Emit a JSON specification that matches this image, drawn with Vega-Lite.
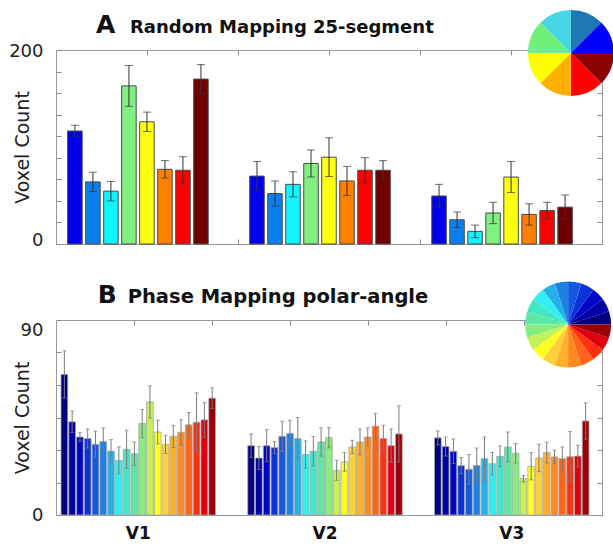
{
  "$schema": "https://vega.github.io/schema/vega-lite/v6.json",
  "padding": {"left": 8, "top": 9, "right": 0, "bottom": 0},
  "spacing": 30,
  "config": {
    "font": "DejaVu Sans",
    "view": {"stroke": "#9a9a9a", "strokeWidth": 1},
    "axis": {"labelFont": "DejaVu Sans", "titleFont": "DejaVu Sans", "labelColor": "#222222", "titleColor": "#222222", "tickColor": "#8a8a8a", "titleFontWeight": "normal", "grid": false}
  },
  "datasets": {
    "a": [
      {"g": "V1", "c": 1, "v": 116.5, "lo": 110.5, "hi": 122.5},
      {"g": "V1", "c": 2, "v": 64, "lo": 54, "hi": 74},
      {"g": "V1", "c": 3, "v": 54.5, "lo": 44.5, "hi": 64.5},
      {"g": "V1", "c": 4, "v": 163, "lo": 142, "hi": 184},
      {"g": "V1", "c": 5, "v": 126, "lo": 116, "hi": 136},
      {"g": "V1", "c": 6, "v": 77, "lo": 68, "hi": 86},
      {"g": "V1", "c": 7, "v": 76, "lo": 62, "hi": 90},
      {"g": "V1", "c": 8, "v": 170, "lo": 155, "hi": 185},
      {"g": "V2", "c": 1, "v": 70, "lo": 55, "hi": 85},
      {"g": "V2", "c": 2, "v": 52, "lo": 39, "hi": 65},
      {"g": "V2", "c": 3, "v": 61.5, "lo": 48.5, "hi": 74.5},
      {"g": "V2", "c": 4, "v": 83, "lo": 69, "hi": 97},
      {"g": "V2", "c": 5, "v": 89.5, "lo": 69.5, "hi": 109.5},
      {"g": "V2", "c": 6, "v": 65, "lo": 50, "hi": 80},
      {"g": "V2", "c": 7, "v": 76, "lo": 63, "hi": 89},
      {"g": "V2", "c": 8, "v": 76, "lo": 66, "hi": 86},
      {"g": "V3", "c": 1, "v": 49.5, "lo": 37.5, "hi": 61.5},
      {"g": "V3", "c": 2, "v": 25, "lo": 17, "hi": 33},
      {"g": "V3", "c": 3, "v": 13, "lo": 6.5, "hi": 19.5},
      {"g": "V3", "c": 4, "v": 32, "lo": 21, "hi": 43},
      {"g": "V3", "c": 5, "v": 69, "lo": 53, "hi": 85},
      {"g": "V3", "c": 6, "v": 30.5, "lo": 19.5, "hi": 41.5},
      {"g": "V3", "c": 7, "v": 34.5, "lo": 26, "hi": 43},
      {"g": "V3", "c": 8, "v": 38, "lo": 25.5, "hi": 50.5}
    ],
    "b": [
      {"g": "V1", "c": 1, "v": 64.9, "lo": 54, "hi": 75.8},
      {"g": "V1", "c": 2, "v": 43, "lo": 38, "hi": 48},
      {"g": "V1", "c": 3, "v": 36, "lo": 34, "hi": 38},
      {"g": "V1", "c": 4, "v": 35.3, "lo": 30.9, "hi": 39.7},
      {"g": "V1", "c": 5, "v": 32.6, "lo": 26.5, "hi": 38.7},
      {"g": "V1", "c": 6, "v": 33.9, "lo": 27.6, "hi": 40.2},
      {"g": "V1", "c": 7, "v": 29.5, "lo": 24.2, "hi": 34.8},
      {"g": "V1", "c": 8, "v": 25.2, "lo": 19, "hi": 31.4},
      {"g": "V1", "c": 9, "v": 30.3, "lo": 21.5, "hi": 39.1},
      {"g": "V1", "c": 10, "v": 28.3, "lo": 22.9, "hi": 33.7},
      {"g": "V1", "c": 11, "v": 42.2, "lo": 35.7, "hi": 48.7},
      {"g": "V1", "c": 12, "v": 52.2, "lo": 44.8, "hi": 59.6},
      {"g": "V1", "c": 13, "v": 38.3, "lo": 32.8, "hi": 43.8},
      {"g": "V1", "c": 14, "v": 32.6, "lo": 28.4, "hi": 36.8},
      {"g": "V1", "c": 15, "v": 36.3, "lo": 31.2, "hi": 41.4},
      {"g": "V1", "c": 16, "v": 38.2, "lo": 32.4, "hi": 44},
      {"g": "V1", "c": 17, "v": 41.6, "lo": 35.9, "hi": 47.3},
      {"g": "V1", "c": 18, "v": 42.8, "lo": 29.2, "hi": 56.4},
      {"g": "V1", "c": 19, "v": 43.9, "lo": 35.9, "hi": 51.9},
      {"g": "V1", "c": 20, "v": 53.9, "lo": 49.1, "hi": 58.7},
      {"g": "V2", "c": 1, "v": 32, "lo": 26.6, "hi": 37.4},
      {"g": "V2", "c": 2, "v": 26.3, "lo": 21, "hi": 31.6},
      {"g": "V2", "c": 3, "v": 32, "lo": 24.6, "hi": 39.4},
      {"g": "V2", "c": 4, "v": 31.1, "lo": 28.3, "hi": 33.9},
      {"g": "V2", "c": 5, "v": 36.3, "lo": 29.3, "hi": 43.3},
      {"g": "V2", "c": 6, "v": 37.7, "lo": 31.7, "hi": 43.7},
      {"g": "V2", "c": 7, "v": 35.3, "lo": 25.6, "hi": 45},
      {"g": "V2", "c": 8, "v": 27.9, "lo": 21.6, "hi": 34.2},
      {"g": "V2", "c": 9, "v": 29.4, "lo": 22.6, "hi": 36.2},
      {"g": "V2", "c": 10, "v": 33.7, "lo": 27.2, "hi": 40.2},
      {"g": "V2", "c": 11, "v": 35.7, "lo": 31, "hi": 40.4},
      {"g": "V2", "c": 12, "v": 20.6, "lo": 16, "hi": 25.2},
      {"g": "V2", "c": 13, "v": 24.5, "lo": 20.2, "hi": 28.8},
      {"g": "V2", "c": 14, "v": 31.4, "lo": 28.3, "hi": 34.5},
      {"g": "V2", "c": 15, "v": 33.7, "lo": 27.7, "hi": 39.7},
      {"g": "V2", "c": 16, "v": 36, "lo": 31.8, "hi": 40.2},
      {"g": "V2", "c": 17, "v": 41, "lo": 35.1, "hi": 46.9},
      {"g": "V2", "c": 18, "v": 35.3, "lo": 29.2, "hi": 41.4},
      {"g": "V2", "c": 19, "v": 32, "lo": 24.3, "hi": 39.7},
      {"g": "V2", "c": 20, "v": 37.4, "lo": 24.4, "hi": 50.4},
      {"g": "V3", "c": 1, "v": 35.6, "lo": 32.4, "hi": 38.8},
      {"g": "V3", "c": 2, "v": 31.6, "lo": 27.2, "hi": 36},
      {"g": "V3", "c": 3, "v": 29.4, "lo": 23.7, "hi": 35.1},
      {"g": "V3", "c": 4, "v": 22.8, "lo": 19.1, "hi": 26.5},
      {"g": "V3", "c": 5, "v": 21.1, "lo": 14.3, "hi": 27.9},
      {"g": "V3", "c": 6, "v": 22.9, "lo": 14.9, "hi": 30.9},
      {"g": "V3", "c": 7, "v": 26, "lo": 16, "hi": 36},
      {"g": "V3", "c": 8, "v": 23.7, "lo": 18.5, "hi": 28.9},
      {"g": "V3", "c": 9, "v": 27.1, "lo": 22.3, "hi": 31.9},
      {"g": "V3", "c": 10, "v": 31.4, "lo": 24.5, "hi": 38.3},
      {"g": "V3", "c": 11, "v": 28.5, "lo": 24, "hi": 33},
      {"g": "V3", "c": 12, "v": 16.8, "lo": 15.3, "hi": 18.3},
      {"g": "V3", "c": 13, "v": 22.5, "lo": 16.2, "hi": 28.8},
      {"g": "V3", "c": 14, "v": 26.3, "lo": 20, "hi": 32.6},
      {"g": "V3", "c": 15, "v": 28.8, "lo": 24, "hi": 33.6},
      {"g": "V3", "c": 16, "v": 26.8, "lo": 23.7, "hi": 29.9},
      {"g": "V3", "c": 17, "v": 26, "lo": 20.6, "hi": 31.4},
      {"g": "V3", "c": 18, "v": 26.9, "lo": 15.3, "hi": 38.5},
      {"g": "V3", "c": 19, "v": 27.2, "lo": 22.2, "hi": 32.2},
      {"g": "V3", "c": 20, "v": 43.4, "lo": 35, "hi": 51.8}
    ],
    "pieA": [
      {"k": 1, "n": 1}, {"k": 2, "n": 1}, {"k": 3, "n": 1}, {"k": 4, "n": 1},
      {"k": 5, "n": 1}, {"k": 6, "n": 1}, {"k": 7, "n": 1}, {"k": 8, "n": 1}
    ],
    "pieB": [
      {"c": 1, "n": 1}, {"c": 2, "n": 1}, {"c": 3, "n": 1}, {"c": 4, "n": 1}, {"c": 5, "n": 1},
      {"c": 6, "n": 1}, {"c": 7, "n": 1}, {"c": 8, "n": 1}, {"c": 9, "n": 1}, {"c": 10, "n": 1},
      {"c": 11, "n": 1}, {"c": 12, "n": 1}, {"c": 13, "n": 1}, {"c": 14, "n": 1}, {"c": 15, "n": 1},
      {"c": 16, "n": 1}, {"c": 17, "n": 1}, {"c": 18, "n": 1}, {"c": 19, "n": 1}, {"c": 20, "n": 1}
    ],
    "one": [{"o": 1}]
  },
  "vconcat": [
    {
      "width": 546,
      "height": 194,
      "resolve": {
        "scale": {"x": "independent", "y": "independent", "color": "independent", "xOffset": "independent", "theta": "independent"},
        "axis": {"x": "independent", "y": "independent"}
      },
      "layer": [
        {
          "data": {"name": "a"},
          "mark": {"type": "bar", "stroke": "#4a4a4a", "strokeWidth": 1},
          "encoding": {
            "x": {"field": "g", "type": "nominal", "scale": {"domain": ["V1", "V2", "V3"], "range": [0, 528], "paddingInner": 0.228, "paddingOuter": 0.064}, "axis": null},
            "xOffset": {"field": "c", "type": "ordinal", "scale": {"domain": [1, 2, 3, 4, 5, 6, 7, 8], "paddingInner": 0.194, "paddingOuter": 0}},
            "y": {"field": "v", "type": "quantitative", "scale": {"domain": [0, 200], "nice": false},
              "axis": {"values": [0, 22.2222, 44.4444, 66.6667, 88.8889, 111.1111, 133.3333, 155.5556, 177.7778, 200],
                "labelExpr": "datum.value == 0 || datum.value == 200 ? datum.label : ''",
                "title": "Voxel Count", "titleFontSize": 19, "titleX": -28, "titleBaseline": "alphabetic",
                "labelFontSize": 18, "labelPadding": 18, "tickSize": -5, "domain": false, "labelFlush": false,
                "labelOffset": {"condition": {"test": "datum.value == 0", "value": -4}, "value": 1}}},
            "color": {"field": "c", "type": "ordinal", "scale": {"domain": [1, 2, 3, 4, 5, 6, 7, 8], "range": ["#0000ee", "#0a80f0", "#10f4ff", "#80f080", "#ffff10", "#ff8000", "#ff0000", "#700000"]}, "legend": null}
          }
        },
        {
          "data": {"name": "a"},
          "mark": {"type": "rule", "color": "#333333", "strokeWidth": 1},
          "encoding": {
            "x": {"field": "g", "type": "nominal", "scale": {"domain": ["V1", "V2", "V3"], "range": [0, 528], "paddingInner": 0.228, "paddingOuter": 0.064}, "axis": null},
            "xOffset": {"field": "c", "type": "ordinal", "scale": {"domain": [1, 2, 3, 4, 5, 6, 7, 8], "paddingInner": 0.194, "paddingOuter": 0}},
            "y": {"field": "lo", "type": "quantitative", "scale": {"domain": [0, 200], "nice": false},
              "axis": {"orient": "right", "values": [0, 22.2222, 44.4444, 66.6667, 88.8889, 111.1111, 133.3333, 155.5556, 177.7778, 200], "labels": false, "title": null, "domain": false, "tickSize": -5}},
            "y2": {"field": "hi"}
          }
        },
        {
          "data": {"name": "a"},
          "mark": {"type": "tick", "color": "#333333", "size": 8, "thickness": 1},
          "encoding": {
            "x": {"field": "g", "type": "nominal", "scale": {"domain": ["V1", "V2", "V3"], "range": [0, 528], "paddingInner": 0.228, "paddingOuter": 0.064}, "axis": null},
            "xOffset": {"field": "c", "type": "ordinal", "scale": {"domain": [1, 2, 3, 4, 5, 6, 7, 8], "paddingInner": 0.194, "paddingOuter": 0}},
            "y": {"field": "hi", "type": "quantitative", "scale": {"domain": [0, 200], "nice": false}, "axis": null}
          }
        },
        {
          "data": {"name": "a"},
          "mark": {"type": "tick", "color": "#333333", "size": 8, "thickness": 1},
          "encoding": {
            "x": {"field": "g", "type": "nominal", "scale": {"domain": ["V1", "V2", "V3"], "range": [0, 528], "paddingInner": 0.228, "paddingOuter": 0.064}, "axis": null},
            "xOffset": {"field": "c", "type": "ordinal", "scale": {"domain": [1, 2, 3, 4, 5, 6, 7, 8], "paddingInner": 0.194, "paddingOuter": 0}},
            "y": {"field": "lo", "type": "quantitative", "scale": {"domain": [0, 200], "nice": false}, "axis": null}
          }
        },
        {
          "data": {"name": "pieA"},
          "mark": {"type": "arc", "outerRadius": 43},
          "encoding": {
            "x": {"datum": 0.943, "type": "quantitative", "scale": {"domain": [0, 1], "nice": false}, "axis": null},
            "y": {"datum": 0.985, "type": "quantitative", "scale": {"domain": [0, 1], "nice": false}, "axis": null},
            "theta": {"field": "n", "type": "quantitative", "stack": true},
            "color": {"field": "k", "type": "ordinal", "scale": {"domain": [1, 2, 3, 4, 5, 6, 7, 8], "range": ["#1f78b4", "#0000ff", "#8b0000", "#ff0000", "#ffb000", "#ffff00", "#6ef07a", "#48d6e6"]}, "legend": null},
            "order": {"field": "k", "type": "ordinal", "sort": "ascending"}
          }
        },
        {
          "data": {"name": "one"},
          "mark": {"type": "text", "text": "A", "fontSize": 25, "fontWeight": "bold", "align": "left", "baseline": "alphabetic", "font": "DejaVu Sans", "color": "#111111"},
          "encoding": {
            "x": {"datum": 0.0733, "type": "quantitative", "scale": {"domain": [0, 1], "nice": false},
              "axis": {"orient": "top", "values": [0.16667, 0.33333, 0.5, 0.66667, 0.83333], "labels": false, "title": null, "domain": false, "tickSize": -5}},
            "y": {"datum": 1.0876, "type": "quantitative", "scale": {"domain": [0, 1], "nice": false}, "axis": null}
          }
        },
        {
          "data": {"name": "one"},
          "mark": {"type": "text", "text": "Random Mapping 25-segment", "fontSize": 18, "fontWeight": "bold", "align": "left", "baseline": "alphabetic", "font": "DejaVu Sans", "color": "#111111"},
          "encoding": {
            "x": {"datum": 0.1355, "type": "quantitative", "scale": {"domain": [0, 1], "nice": false},
              "axis": {"orient": "bottom", "values": [0.33333, 0.66667], "labels": false, "title": null, "domain": false, "tickSize": -5}},
            "y": {"datum": 1.0876, "type": "quantitative", "scale": {"domain": [0, 1], "nice": false}, "axis": null}
          }
        }
      ]
    },
    {
      "width": 546,
      "height": 195,
      "resolve": {
        "scale": {"x": "independent", "y": "independent", "color": "independent", "xOffset": "independent", "theta": "independent"},
        "axis": {"x": "independent", "y": "independent"}
      },
      "layer": [
        {
          "data": {"name": "b"},
          "mark": {"type": "bar", "stroke": "#a8a8a8", "strokeWidth": 0.8},
          "encoding": {
            "x": {"field": "g", "type": "nominal", "scale": {"domain": ["V1", "V2", "V3"], "range": [0, 538], "paddingInner": 0.1725, "paddingOuter": 0.0268},
              "axis": {"orient": "bottom", "title": null, "labelAngle": 0, "labelFontSize": 17, "labelFontWeight": "bold", "labelColor": "#111111", "ticks": false, "domain": false, "labelPadding": 10}},
            "xOffset": {"field": "c", "type": "ordinal", "scale": {"domain": [1, 2, 3, 4, 5, 6, 7, 8, 9, 10, 11, 12, 13, 14, 15, 16, 17, 18, 19, 20], "paddingInner": 0.135, "paddingOuter": 0}},
            "y": {"field": "v", "type": "quantitative", "scale": {"domain": [0, 90], "nice": false},
              "axis": {"values": [0, 15, 30, 45, 60, 75, 90],
                "labelExpr": "datum.value == 0 || datum.value == 90 ? datum.label : ''",
                "title": "Voxel Count", "titleFontSize": 19, "titleX": -28, "titleBaseline": "alphabetic",
                "labelFontSize": 18, "labelPadding": 18, "tickSize": -5, "domain": false, "labelFlush": false,
                "labelOffset": {"condition": {"test": "datum.value == 90", "value": 10}, "value": 0}}},
            "color": {"field": "c", "type": "ordinal", "scale": {"domain": [1, 2, 3, 4, 5, 6, 7, 8, 9, 10, 11, 12, 13, 14, 15, 16, 17, 18, 19, 20],
              "range": ["#000080", "#0000a4", "#0006c8", "#0a32d8", "#1458e0", "#1e80e2", "#24b0e8", "#30eef2", "#40e8c8", "#5ce8a4", "#88ec80", "#c4f058", "#ffff20", "#ffd038", "#ffb028", "#ff8a20", "#ff6418", "#ff3010", "#e00010", "#9a0008"]}, "legend": null}
          }
        },
        {
          "data": {"name": "b"},
          "mark": {"type": "rule", "color": "#7a7a7a", "strokeWidth": 1},
          "encoding": {
            "x": {"field": "g", "type": "nominal", "scale": {"domain": ["V1", "V2", "V3"], "range": [0, 538], "paddingInner": 0.1725, "paddingOuter": 0.0268}, "axis": null},
            "xOffset": {"field": "c", "type": "ordinal", "scale": {"domain": [1, 2, 3, 4, 5, 6, 7, 8, 9, 10, 11, 12, 13, 14, 15, 16, 17, 18, 19, 20], "paddingInner": 0.135, "paddingOuter": 0}},
            "y": {"field": "lo", "type": "quantitative", "scale": {"domain": [0, 90], "nice": false},
              "axis": {"orient": "right", "values": [0, 15, 30, 45, 60, 75, 90], "labels": false, "title": null, "domain": false, "tickSize": -5}},
            "y2": {"field": "hi"}
          }
        },
        {
          "data": {"name": "b"},
          "mark": {"type": "tick", "color": "#7a7a7a", "size": 4, "thickness": 1},
          "encoding": {
            "x": {"field": "g", "type": "nominal", "scale": {"domain": ["V1", "V2", "V3"], "range": [0, 538], "paddingInner": 0.1725, "paddingOuter": 0.0268}, "axis": null},
            "xOffset": {"field": "c", "type": "ordinal", "scale": {"domain": [1, 2, 3, 4, 5, 6, 7, 8, 9, 10, 11, 12, 13, 14, 15, 16, 17, 18, 19, 20], "paddingInner": 0.135, "paddingOuter": 0}},
            "y": {"field": "hi", "type": "quantitative", "scale": {"domain": [0, 90], "nice": false}, "axis": null}
          }
        },
        {
          "data": {"name": "b"},
          "mark": {"type": "tick", "color": "#7a7a7a", "size": 4, "thickness": 1},
          "encoding": {
            "x": {"field": "g", "type": "nominal", "scale": {"domain": ["V1", "V2", "V3"], "range": [0, 538], "paddingInner": 0.1725, "paddingOuter": 0.0268}, "axis": null},
            "xOffset": {"field": "c", "type": "ordinal", "scale": {"domain": [1, 2, 3, 4, 5, 6, 7, 8, 9, 10, 11, 12, 13, 14, 15, 16, 17, 18, 19, 20], "paddingInner": 0.135, "paddingOuter": 0}},
            "y": {"field": "lo", "type": "quantitative", "scale": {"domain": [0, 90], "nice": false}, "axis": null}
          }
        },
        {
          "data": {"name": "pieB"},
          "mark": {"type": "arc", "outerRadius": 43},
          "encoding": {
            "x": {"datum": 0.938, "type": "quantitative", "scale": {"domain": [0, 1], "nice": false}, "axis": null},
            "y": {"datum": 0.977, "type": "quantitative", "scale": {"domain": [0, 1], "nice": false}, "axis": null},
            "theta": {"field": "n", "type": "quantitative", "stack": true, "scale": {"range": [1.5708, 7.854]}},
            "color": {"field": "c", "type": "ordinal", "scale": {"domain": [1, 2, 3, 4, 5, 6, 7, 8, 9, 10, 11, 12, 13, 14, 15, 16, 17, 18, 19, 20],
              "range": ["#000080", "#0000a4", "#0006c8", "#0a32d8", "#1458e0", "#1e80e2", "#24b0e8", "#30eef2", "#40e8c8", "#5ce8a4", "#88ec80", "#c4f058", "#ffff20", "#ffd038", "#ffb028", "#ff8a20", "#ff6418", "#ff3010", "#e00010", "#9a0008"]}, "legend": null},
            "order": {"field": "c", "type": "quantitative", "sort": "descending"}
          }
        },
        {
          "data": {"name": "one"},
          "mark": {"type": "text", "text": "B", "fontSize": 25, "fontWeight": "bold", "align": "left", "baseline": "alphabetic", "font": "DejaVu Sans", "color": "#111111"},
          "encoding": {
            "x": {"datum": 0.0764, "type": "quantitative", "scale": {"domain": [0, 1], "nice": false},
              "axis": {"orient": "top", "values": [0.142857, 0.285714, 0.428571, 0.571429, 0.714286, 0.857143], "labels": false, "title": null, "domain": false, "tickSize": -5}},
            "y": {"datum": 1.0856, "type": "quantitative", "scale": {"domain": [0, 1], "nice": false}, "axis": null}
          }
        },
        {
          "data": {"name": "one"},
          "mark": {"type": "text", "text": "Phase Mapping polar-angle", "fontSize": 19.5, "fontWeight": "bold", "align": "left", "baseline": "alphabetic", "font": "DejaVu Sans", "color": "#111111"},
          "encoding": {
            "x": {"datum": 0.1313, "type": "quantitative", "scale": {"domain": [0, 1], "nice": false}, "axis": null},
            "y": {"datum": 1.0856, "type": "quantitative", "scale": {"domain": [0, 1], "nice": false}, "axis": null}
          }
        }
      ]
    }
  ]
}
